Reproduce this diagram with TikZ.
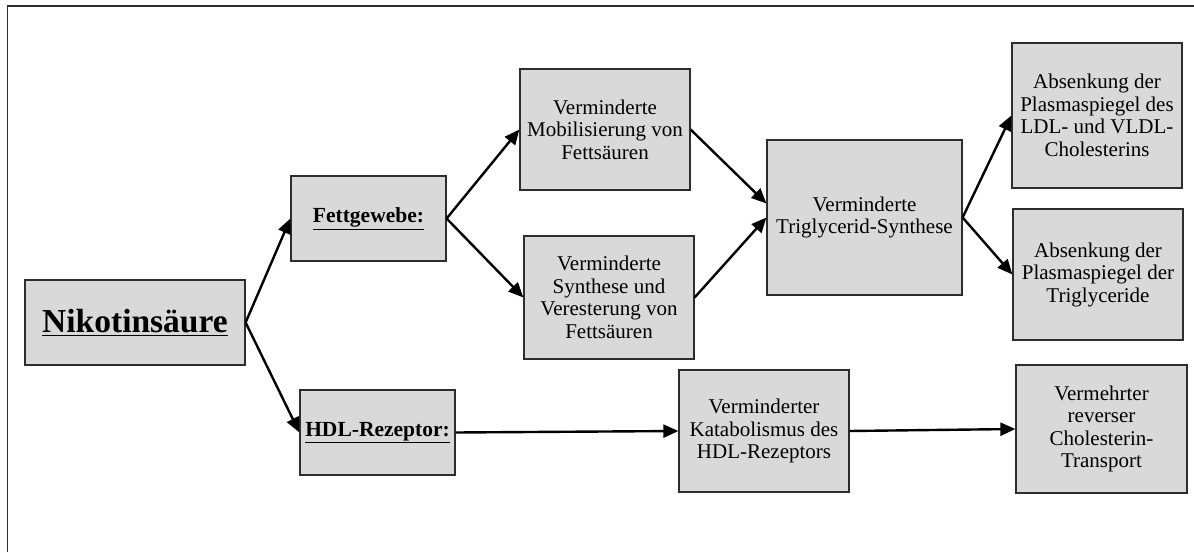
\documentclass[tikz,border=0pt]{standalone}
\usepackage{fontspec}
\setmainfont{Liberation Serif}
\usepackage{tikz}
\usetikzlibrary{arrows.meta}
\definecolor{boxgray}{RGB}{217,217,217}
\definecolor{rimgray}{RGB}{45,45,45}
\newcommand{\bodyfont}{\fontsize{21}{22.5}\selectfont}
\newcommand{\headfont}{\fontsize{21.5}{23}\selectfont\bfseries}

\begin{document}
\begin{tikzpicture}[x=1pt,y=-1pt,>={Triangle[length=15pt,width=13pt]},
  box/.style={draw=rimgray,line width=1.2pt,fill=boxgray,inner sep=0pt,
    align=center,font=\bodyfont},
  arr/.style={->,line width=2.4pt}]
  % page is 1194 x 552, y runs down
  \useasboundingbox (0,0) rectangle (1194,552);
  % frame: only top and left edge show
  \draw[line width=1.5pt,rimgray](7.5,552)--(7.5,6)--(1194,6);

  % left column
  \node[box,minimum width=220pt,minimum height=85pt,
    font=\fontsize{33.5}{36}\selectfont\bfseries] (nik) at (135,322.5)
    {\underline{Nikotinsäure}};
  \node[box,minimum width=155pt,minimum height=85pt,font=\headfont]
    (fett) at (368.5,218.5) {\underline{Fettgewebe:}};
  \node[box,minimum width=155pt,minimum height=85pt,font=\headfont]
    (hdl) at (377.5,432.5) {\underline{HDL-Rezeptor:}};

  % middle column
  \node[box,minimum width=170pt,minimum height=121pt] (mob) at (605,129.5)
    {Verminderte\\Mobilisierung von\\Fettsäuren};
  \node[box,minimum width=170pt,minimum height=123pt] (syn) at (609,297.5)
    {Verminderte\\Synthese und\\Veresterung von\\Fettsäuren};
  \node[box,minimum width=170pt,minimum height=122pt] (kat) at (764,431)
    {Verminderter\\Katabolismus des\\HDL-Rezeptors};
  \node[box,minimum width=195pt,minimum height=155pt] (tri) at (864.5,217.5)
    {Verminderte\\Triglycerid-Synthese};

  % right column
  \node[box,minimum width=170pt,minimum height=145pt] (ldl) at (1097,115.5)
    {Absenkung der\\Plasmaspiegel des\\LDL- und VLDL-\\Cholesterins};
  \node[box,minimum width=170pt,minimum height=131pt] (tgl) at (1098,274.5)
    {Absenkung der\\Plasmaspiegel der\\Triglyceride};
  \node[box,minimum width=171pt,minimum height=128pt] (rct) at (1101.5,429)
    {Vermehrter\\reverser\\Cholesterin-\\Transport};

  % arrows
  \draw[arr](nik.east)--(fett.west);
  \draw[arr](nik.east)--(hdl.west);
  \draw[arr](fett.east)--(mob.west);
  \draw[arr](fett.east)--(syn.west);
  \draw[arr](mob.east)--([yshift=14pt]tri.west);
  \draw[arr](syn.east)--(tri.west);
  \draw[arr](tri.east)--(ldl.west);
  \draw[arr](tri.east)--(tgl.west);
  \draw[arr](hdl.east)--(kat.west);
  \draw[arr](kat.east)--(rct.west);
\end{tikzpicture}
\end{document}
